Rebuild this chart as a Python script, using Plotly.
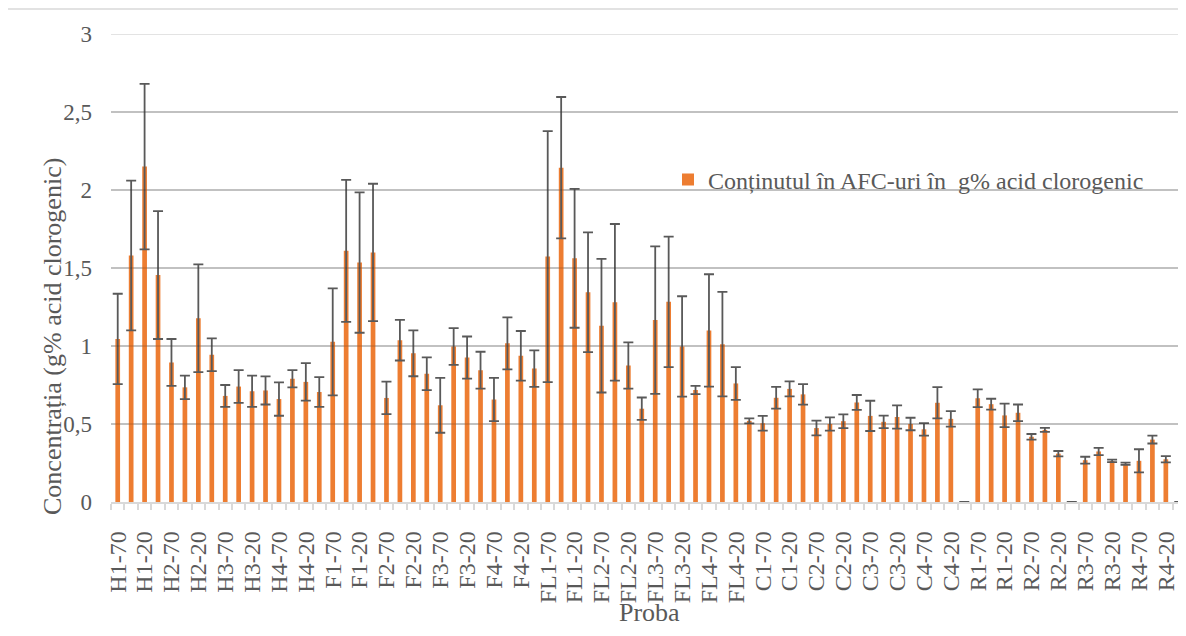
import plotly.graph_objects as go

# ---------------- data ----------------
groups = ["H1", "H2", "H3", "H4", "F1", "F2", "F3", "F4",
          "FL1", "FL2", "FL3", "FL4", "C1", "C2", "C3", "C4",
          "R1", "R2", "R3", "R4"]
levels = ["70", "50", "20", "0"]          # only "-70" and "-20" labels are shown
shown_levels = ["70", "20"]

categories = [f"{g}-{lv}" for g in groups for lv in levels]
tick_labels = [f"{g}-{lv}" if lv in shown_levels else "" for g in groups for lv in levels]

values = [
    1.045, 1.58, 2.15, 1.455,   0.895, 0.735, 1.178, 0.944,   # H1, H2
    0.68, 0.74, 0.71, 0.715,    0.66, 0.79, 0.77, 0.705,      # H3, H4
    1.027, 1.61, 1.535, 1.60,   0.667, 1.037, 0.953, 0.822,   # F1, F2
    0.62, 0.997, 0.926, 0.845,  0.657, 1.017, 0.937, 0.855,   # F3, F4
    1.573, 2.143, 1.562, 1.345, 1.13, 1.28, 0.875, 0.598,     # FL1, FL2
    1.166, 1.283, 0.997, 0.718, 1.10, 1.012, 0.76, 0.52,      # FL3, FL4
    0.505, 0.668, 0.725, 0.69,  0.474, 0.50, 0.518, 0.638,    # C1, C2
    0.552, 0.514, 0.545, 0.50,  0.466, 0.636, 0.533, 0.0,     # C3, C4
    0.665, 0.627, 0.555, 0.572, 0.418, 0.462, 0.31, 0.0,      # R1, R2
    0.268, 0.324, 0.263, 0.245, 0.264, 0.40, 0.274, 0.0,      # R3, R4
]
errors = [
    0.29, 0.48, 0.53, 0.41,     0.15, 0.075, 0.345, 0.105,
    0.07, 0.105, 0.10, 0.09,    0.107, 0.055, 0.12, 0.095,
    0.343, 0.455, 0.45, 0.44,   0.104, 0.13, 0.147, 0.105,
    0.176, 0.118, 0.135, 0.118, 0.139, 0.167, 0.159, 0.117,
    0.805, 0.453, 0.445, 0.384, 0.428, 0.502, 0.148, 0.072,
    0.473, 0.418, 0.322, 0.026, 0.36, 0.335, 0.105, 0.016,
    0.047, 0.07, 0.048, 0.066,  0.047, 0.043, 0.044, 0.048,
    0.097, 0.04, 0.075, 0.04,   0.04, 0.10, 0.05, 0.0,
    0.057, 0.035, 0.075, 0.053, 0.018, 0.013, 0.017, 0.0,
    0.022, 0.023, 0.008, 0.007, 0.074, 0.025, 0.02, 0.0,
]

y_tick_vals = [0, 0.5, 1, 1.5, 2, 2.5, 3]
y_tick_text = ["0", "0,5", "1", "1,5", "2", "2,5", "3"]

series_name = "Conținutul în AFC-uri în\u00a0 g% acid clorogenic"
y_title = "Concentrația (g% acid clorogenic)"
x_title = "Proba"

# ---------------- styles ----------------
FONT = "Liberation Serif, Times New Roman, serif"
TXT = "#595959"
GRID = "#D9D9D9"
GRID_OVER = "rgba(0,0,0,0.15)"     # looks like #D9D9D9 on white, subtle over bars
ORANGE = "#ED7D31"

# page body has an 8px margin: figure coords = screen coords - 8
W, H = 1178, 628
L, T, B = 103, 26, 134
PW, PH = W - L, H - T - B          # plot area size (1075 x 468)


def px(xs):   # screen x -> paper x
    return (xs - 8 - L) / PW


def py(ys):   # screen y -> paper y
    return (H - B - (ys - 8)) / PH


fig = go.Figure()
fig.add_trace(go.Bar(
    x=categories,
    y=values,
    name=series_name,
    marker=dict(color=ORANGE, line=dict(width=0)),
    error_y=dict(type="data", array=errors, visible=True,
                 color=TXT, thickness=1.8, width=5),
    showlegend=True,
))

# horizontal gridlines at the y tick values
grid_shapes = [
    dict(type="line", xref="paper", yref="y", x0=0, x1=1, y0=v, y1=v,
         line=dict(color=GRID_OVER, width=1.5), layer="above")
    for v in y_tick_vals[1:]
]
border = dict(type="rect", xref="paper", yref="paper",
              x0=px(7), x1=px(1200), y0=py(660), y1=py(9),
              line=dict(color=GRID, width=1.5), layer="above")

fig.update_layout(
    template="none",
    width=W, height=H,
    margin=dict(l=L, r=0, t=T, b=B, autoexpand=False),
    paper_bgcolor="white", plot_bgcolor="rgba(0,0,0,0)",
    font=dict(family=FONT, color=TXT, size=24),
    bargap=0.65,
    showlegend=True,
    legend=dict(x=px(668), y=py(180), xanchor="left", yanchor="middle",
                bgcolor="rgba(0,0,0,0)", borderwidth=0,
                font=dict(size=24, color=TXT, family=FONT),
                itemwidth=30),
    xaxis=dict(
        type="category", automargin=False,
        categoryorder="array", categoryarray=categories,
        range=[-0.5, len(categories) - 0.5],
        tickmode="array", tickvals=categories, ticktext=tick_labels,
        tickson="boundaries", ticks="outside", ticklen=6, tickwidth=1.5, tickcolor=GRID,
        tickangle=-90, tickfont=dict(size=24, color=TXT, family=FONT),
        ticklabelstandoff=18,
        showline=True, linecolor=GRID, linewidth=1.5,
        showgrid=False, zeroline=False,
    ),
    yaxis=dict(
        automargin=False,
        range=[0, 3],
        tickmode="array", tickvals=y_tick_vals, ticktext=y_tick_text,
        tickfont=dict(size=23, color=TXT, family=FONT),
        ticks="", ticklabelstandoff=18,
        showgrid=True, gridcolor=GRID, gridwidth=1.5,
        zeroline=False, showline=False,
    ),
    annotations=[
        dict(text=y_title, xref="paper", yref="paper",
             x=px(53), y=py(337),
             xanchor="center", yanchor="middle", textangle=-90,
             showarrow=False, font=dict(size=26, color=TXT, family=FONT)),
        dict(text=x_title, xref="paper", yref="paper",
             x=px(649), y=py(612),
             xanchor="center", yanchor="middle",
             showarrow=False, font=dict(size=26, color=TXT, family=FONT)),
    ],
    shapes=grid_shapes + [border],
)

fig.write_html("out.html")
